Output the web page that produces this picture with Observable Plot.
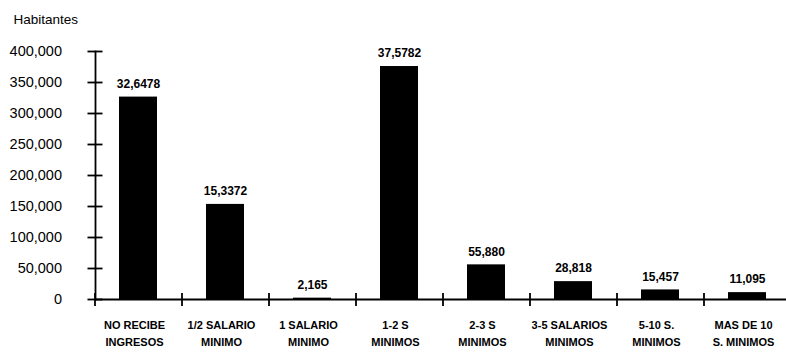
<!DOCTYPE html>
<html>
<head>
<meta charset="utf-8">
<script src="https://cdn.jsdelivr.net/npm/d3@7"></script>
<script src="https://cdn.jsdelivr.net/npm/@observablehq/plot@0.6"></script>
<style>
  html, body { margin: 0; padding: 0; background: #fff; }
  #chart svg { display: block; }
</style>
</head>
<body>
<div id="chart"></div>
<script>
// Población por nivel de ingreso
const categories = [
  "NO RECIBE\nINGRESOS",
  "1/2 SALARIO\nMINIMO",
  "1 SALARIO\nMINIMO",
  "1-2 S\nMINIMOS",
  "2-3 S\nMINIMOS",
  "3-5 SALARIOS\nMINIMOS",
  "5-10 S.\nMINIMOS",
  "MAS DE 10\nS. MINIMOS"
];
const habitantes = [326478, 153372, 2165, 375782, 55880, 28818, 15457, 11095];
const valueLabels = ["32,6478", "15,3372", "2,165", "37,5782", "55,880", "28,818", "15,457", "11,095"];
const yTicks = [0, 50000, 100000, 150000, 200000, 250000, 300000, 350000, 400000];

const rows = categories.map((c, i) => ({categoria: c, habitantes: habitantes[i], etiqueta: valueLabels[i]}));

const W = 786, H = 352;
const left = 95, right = 791;
const step = (right - left) / categories.length;
const font = "'Liberation Sans', Arial, sans-serif";
const narrow = "'Liberation Sans Narrow', 'Liberation Sans', Arial, sans-serif";

const boundaryTicks = (Plot.axisTickX ? Plot.axisTickX : Plot.axisX)({
  tickSize: 13, dy: -6, dx: -step / 2, strokeWidth: 1.8, ...(Plot.axisTickX ? {} : {fill: "none"})
});

const chart = Plot.plot({
  width: W,
  height: H,
  marginTop: 51,
  marginBottom: 53,
  marginLeft: left,
  marginRight: 0,
  style: {fontFamily: font, background: "#fff", color: "#000"},
  x: {domain: categories, range: [left, right], paddingInner: 0.56, paddingOuter: 0.28, align: 0.5},
  y: {domain: [0, 400000]},
  marks: [
    Plot.barY(rows, {x: "categoria", y: "habitantes", fill: "#000"}),
    Plot.ruleY([0], {stroke: "#000", strokeWidth: 1.8}),
    Plot.frame({anchor: "left", stroke: "#000", strokeWidth: 1.8}),
    Plot.axisY({
      ticks: yTicks, tickSize: 15, dx: 7.5, tickPadding: 26,
      tickFormat: d3.format(","), fontSize: 14.5, strokeWidth: 1.8,
      fontFamily: narrow, label: null
    }),
    boundaryTicks,
    Plot.axisX({
      tickSize: 0, tickPadding: 18, dx: -4, lineHeight: 1.5, fontSize: 11,
      fontWeight: "bold", fontFamily: narrow, label: null
    }),
    Plot.text(rows, {
      x: "categoria", y: "habitantes", text: "etiqueta", dy: -13,
      fontSize: 12, fontWeight: "bold", fontFamily: narrow, fill: "#000"
    }),
    Plot.text(["Habitantes"], {
      frameAnchor: "top-left", dx: -82, dy: -37, textAnchor: "start",
      fontSize: 13.5, fontFamily: narrow, fill: "#000"
    })
  ]
});

document.getElementById("chart").append(chart);
</script>
</body>
</html>
